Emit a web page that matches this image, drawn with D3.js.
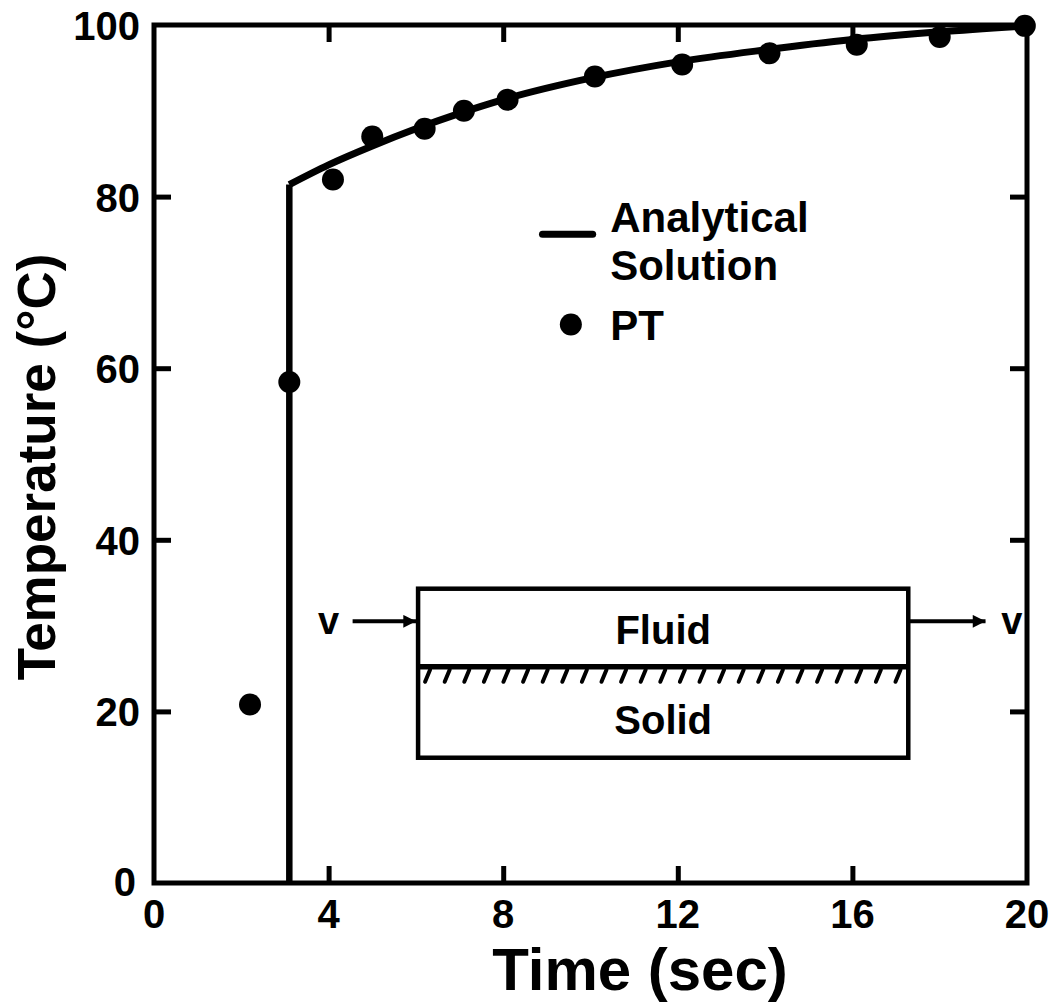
<!DOCTYPE html>
<html>
<head>
<meta charset="utf-8">
<script src="https://cdn.jsdelivr.net/npm/d3@7"></script>
<style>
  html, body { margin: 0; padding: 0; background: #fff; }
  svg { display: block; font-family: "Liberation Sans", Arial, sans-serif; font-weight: bold; }
</style>
</head>
<body>
<svg width="1062" height="1002"></svg>
<script>
// PT simulation points
var ptTime = [2.2, 3.1, 4.1, 5.0, 6.2, 7.1, 8.1, 10.1, 12.1, 14.1, 16.1, 18.0, 19.95];
var ptTemp = [20.8, 58.4, 82.0, 87.0, 87.9, 90.0, 91.3, 94.0, 95.4, 96.7, 97.7, 98.6, 99.9];

// analytical solution: step front at ~3.1 s, then rising curve
var stepTime = [3.1, 3.1];
var stepTemp = [0, 81.4];
var curveTime = [3.1, 4, 5, 6, 7, 8, 10, 12, 14, 16, 18, 20];
var curveTemp = [81.4, 83.7, 85.9, 87.9, 89.7, 91.3, 93.8, 95.7, 97.1, 98.3, 99.2, 99.9];

var xTicks = [0, 4, 8, 12, 16, 20];
var yTicks = [0, 20, 40, 60, 80, 100];

(function () {
  var svg = d3.select("svg");
  var left = 154, right = 1027, top = 25, bottom = 883;
  var tickLen = 17;

  var x = d3.scaleLinear().domain([0, 20]).range([left, right]);
  var y = d3.scaleLinear().domain([0, 100]).range([bottom, top]);

  var zip = function (a, b) {
    return a.map(function (v, i) { return [v, b[i]]; });
  };

  // frame
  svg.append("rect")
    .attr("x", left).attr("y", top)
    .attr("width", right - left).attr("height", bottom - top)
    .attr("fill", "none").attr("stroke", "#000").attr("stroke-width", 5);

  // inward ticks on all four sides (labels drawn separately)
  var inner = function (axis) {
    return axis.tickSizeInner(-tickLen).tickSizeOuter(0).tickFormat("");
  };
  var axes = [
    [d3.axisBottom(x).tickValues(xTicks.slice(1, -1)), "translate(0," + bottom + ")"],
    [d3.axisTop(x).tickValues(xTicks.slice(1, -1)), "translate(0," + top + ")"],
    [d3.axisLeft(y).tickValues(yTicks.slice(1, -1)), "translate(" + left + ",0)"],
    [d3.axisRight(y).tickValues(yTicks.slice(1, -1)), "translate(" + right + ",0)"]
  ];
  axes.forEach(function (a) {
    var g = svg.append("g").attr("transform", a[1]).call(inner(a[0]));
    g.select(".domain").remove();
    g.selectAll("line").attr("stroke", "#000").attr("stroke-width", 5);
  });

  // tick labels
  svg.append("g").selectAll("text").data(xTicks).enter().append("text")
    .attr("x", function (d) { return x(d); })
    .attr("y", bottom + 45)
    .attr("text-anchor", "middle")
    .attr("font-size", 40)
    .text(function (d) { return d; });

  svg.append("g").selectAll("text").data(yTicks).enter().append("text")
    .attr("x", function (d) { return d === 0 ? left - 18 : left - 14; })
    .attr("y", function (d) { return y(d) + (d === 0 ? 13 : 15); })
    .attr("text-anchor", "end")
    .attr("font-size", 40)
    .text(function (d) { return d; });

  // axis titles
  svg.append("text")
    .attr("x", 640)
    .attr("y", 990)
    .attr("text-anchor", "middle")
    .attr("font-size", 60)
    .text("Time (sec)");

  svg.append("text")
    .attr("transform", "translate(55,467) rotate(-90)")
    .attr("text-anchor", "middle")
    .attr("font-size", 53)
    .text("Temperature (°C)");

  // analytical solution
  var line = d3.line()
    .x(function (d) { return x(d[0]); })
    .y(function (d) { return y(d[1]); });

  svg.append("path")
    .attr("d", line(zip(stepTime, stepTemp)))
    .attr("fill", "none").attr("stroke", "#000").attr("stroke-width", 6.5);

  svg.append("path")
    .attr("d", line.curve(d3.curveMonotoneX)(zip(curveTime, curveTemp)))
    .attr("fill", "none").attr("stroke", "#000").attr("stroke-width", 7)
    .attr("stroke-linejoin", "round");

  // PT points
  svg.append("g").selectAll("circle").data(zip(ptTime, ptTemp)).enter().append("circle")
    .attr("cx", function (d) { return x(d[0]); })
    .attr("cy", function (d) { return y(d[1]); })
    .attr("r", 11)
    .attr("fill", "#000");

  // legend
  var lg = svg.append("g");
  lg.append("line")
    .attr("x1", x(8.9)).attr("x2", x(10.05))
    .attr("y1", y(75.6)).attr("y2", y(75.6))
    .attr("stroke", "#000").attr("stroke-width", 7).attr("stroke-linecap", "round");
  lg.append("text").attr("x", x(10.45)).attr("y", y(75.9)).attr("font-size", 42).text("Analytical");
  lg.append("text").attr("x", x(10.45)).attr("y", y(70.3)).attr("font-size", 42).text("Solution");
  lg.append("circle").attr("cx", x(9.55)).attr("cy", y(65.1)).attr("r", 11).attr("fill", "#000");
  lg.append("text").attr("x", x(10.45)).attr("y", y(63.3)).attr("font-size", 42).text("PT");

  // inset sketch: fluid flowing over a solid
  var inset = svg.append("g");
  var bx0 = x(6.05), bx1 = x(17.28);
  var by0 = y(34.3), by1 = y(14.6), bmid = y(25.2);

  inset.append("rect")
    .attr("x", bx0).attr("y", by0)
    .attr("width", bx1 - bx0).attr("height", by1 - by0)
    .attr("fill", "none").attr("stroke", "#000").attr("stroke-width", 4.5);
  inset.append("line")
    .attr("x1", bx0).attr("x2", bx1).attr("y1", bmid).attr("y2", bmid)
    .attr("stroke", "#000").attr("stroke-width", 5.5);

  // hatching under the interface
  inset.append("g").selectAll("line").data(d3.range(bx0 + 12, bx1 - 2, 19.6)).enter().append("line")
    .attr("x1", function (d) { return d; })
    .attr("x2", function (d) { return d - 5; })
    .attr("y1", bmid + 3).attr("y2", bmid + 15)
    .attr("stroke", "#000").attr("stroke-width", 4).attr("stroke-linecap", "round");

  inset.append("text").attr("x", (bx0 + bx1) / 2).attr("y", y(27.8))
    .attr("text-anchor", "middle").attr("font-size", 40).text("Fluid");
  inset.append("text").attr("x", (bx0 + bx1) / 2).attr("y", y(17.4))
    .attr("text-anchor", "middle").attr("font-size", 40).text("Solid");

  svg.append("defs").append("marker")
    .attr("id", "arrow")
    .attr("viewBox", "0 0 10 10")
    .attr("refX", 10).attr("refY", 5)
    .attr("markerWidth", 5.5).attr("markerHeight", 3.2)
    .attr("markerUnits", "strokeWidth")
    .attr("orient", "auto")
    .append("path").attr("d", "M0,0L10,5L0,10Z").attr("fill", "#000");

  var arrowY = y(30.5);
  inset.append("line")
    .attr("x1", x(4.55)).attr("x2", bx0 - 2).attr("y1", arrowY).attr("y2", arrowY)
    .attr("stroke", "#000").attr("stroke-width", 4).attr("marker-end", "url(#arrow)");
  inset.append("line")
    .attr("x1", bx1).attr("x2", x(19.05)).attr("y1", arrowY).attr("y2", arrowY)
    .attr("stroke", "#000").attr("stroke-width", 4).attr("marker-end", "url(#arrow)");
  inset.append("text").attr("x", x(4.0)).attr("y", arrowY + 13)
    .attr("text-anchor", "middle").attr("font-size", 38).text("v");
  inset.append("text").attr("x", x(19.65)).attr("y", arrowY + 13)
    .attr("text-anchor", "middle").attr("font-size", 38).text("v");
}());
</script>
</body>
</html>
